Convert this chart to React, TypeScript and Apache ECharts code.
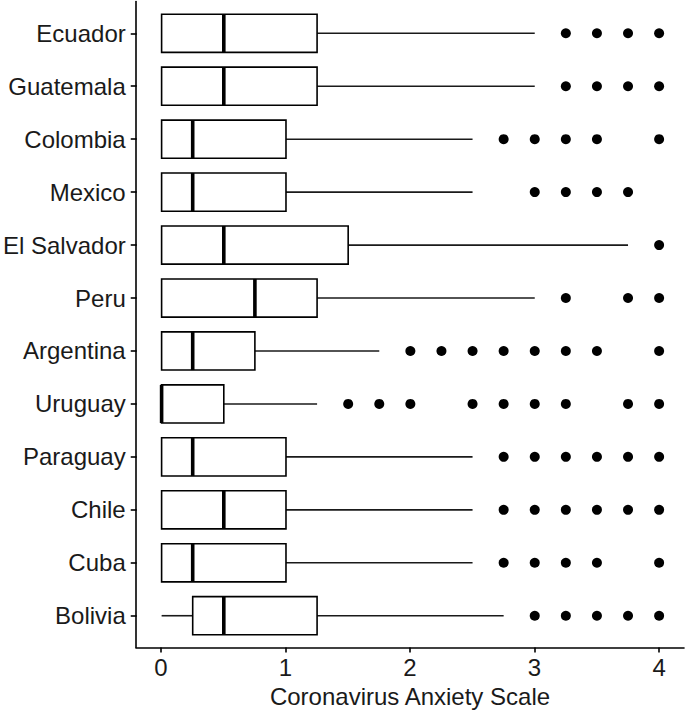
import React, { useEffect, useRef } from "react";
import * as echarts from "echarts";

const countries = ["Ecuador", "Guatemala", "Colombia", "Mexico", "El Salvador", "Peru", "Argentina", "Uruguay", "Paraguay", "Chile", "Cuba", "Bolivia"];
const lowerWhisker = [0, 0, 0, 0, 0, 0, 0, 0, 0, 0, 0, 0];
const q1 = [0, 0, 0, 0, 0, 0, 0, 0, 0, 0, 0, 0.25];
const median = [0.5, 0.5, 0.25, 0.25, 0.5, 0.75, 0.25, 0, 0.25, 0.5, 0.25, 0.5];
const q3 = [1.25, 1.25, 1, 1, 1.5, 1.25, 0.75, 0.5, 1, 1, 1, 1.25];
const upperWhisker = [3, 3, 2.5, 2.5, 3.75, 3, 1.75, 1.25, 2.5, 2.5, 2.5, 2.75];
const outliers = [
  [3.25, 3.5, 3.75, 4],
  [3.25, 3.5, 3.75, 4],
  [2.75, 3, 3.25, 3.5, 4],
  [3, 3.25, 3.5, 3.75],
  [4],
  [3.25, 3.75, 4],
  [2, 2.25, 2.5, 2.75, 3, 3.25, 3.5, 4],
  [1.5, 1.75, 2, 2.5, 2.75, 3, 3.25, 3.75, 4],
  [2.75, 3, 3.25, 3.5, 3.75, 4],
  [2.75, 3, 3.25, 3.5, 3.75, 4],
  [2.75, 3, 3.25, 3.5, 4],
  [3, 3.25, 3.5, 3.75, 4],
];
const xTicks = [0, 1, 2, 3, 4];
const xTitle = "Coronavirus Anxiety Scale";

const FONT = "'Liberation Sans', Arial, Helvetica, sans-serif";
const FS = 24;

export default function App() {
  const ref = useRef<HTMLDivElement>(null);
  useEffect(() => {
    if (!ref.current) return;
    const chart = echarts.init(ref.current, undefined, { renderer: "svg" });
    const boxData = countries.map((_, i) => [i, lowerWhisker[i], q1[i], median[i], q3[i], upperWhisker[i]]);
    const outlierData: number[][] = [];
    outliers.forEach((arr, i) => arr.forEach((v) => outlierData.push([v, i])));

    const option: any = {
      animation: false,
      backgroundColor: "#ffffff",
      grid: [
        { left: 136, right: 1, top: 6.8, height: 635.4 },
        { left: 136, right: 1, top: 1.5, height: 646 },
      ],
      xAxis: [
        {
          type: "value",
          gridIndex: 0,
          min: -0.2,
          max: 4.2,
          show: false,
        },
        {
          type: "value",
          gridIndex: 1,
          min: -0.2,
          max: 4.2,
          axisLine: { show: true, onZero: false, lineStyle: { color: "#000", width: 1.6 } },
          axisTick: { show: true, length: 5, lineStyle: { color: "#000", width: 1.6 }, customValues: xTicks },
          axisLabel: {
            show: true,
            customValues: xTicks,
            fontSize: FS,
            color: "#1a1a1a",
            fontFamily: FONT,
            margin: 8,
            formatter: (v: number) => (Number.isInteger(v) ? String(v) : ""),
          },
          splitLine: { show: false },
          name: xTitle,
          nameLocation: "middle",
          nameGap: 37,
          nameTextStyle: { fontSize: FS, color: "#1a1a1a", fontFamily: FONT },
        },
      ],
      yAxis: [
        {
          type: "category",
          gridIndex: 0,
          data: countries,
          inverse: true,
          boundaryGap: true,
          axisLine: { show: false, onZero: false },
          axisTick: { show: true, alignWithLabel: true, length: 6, lineStyle: { color: "#000", width: 1.6 } },
          axisLabel: { fontSize: FS, color: "#1a1a1a", fontFamily: FONT, margin: 11 },
          splitLine: { show: false },
        },
        {
          type: "value",
          gridIndex: 1,
          min: 0,
          max: 1,
          axisLine: { show: true, onZero: false, lineStyle: { color: "#000", width: 1.6 } },
          axisTick: { show: false },
          axisLabel: { show: false },
          splitLine: { show: false },
        },
      ],
      series: [
        {
          type: "custom",
          xAxisIndex: 0,
          yAxisIndex: 0,
          data: boxData,
          encode: { x: [1, 2, 3, 4, 5], y: 0 },
          renderItem: (params: any, api: any) => {
            const yi = api.value(0);
            const pMin = api.coord([api.value(1), yi]);
            const pQ1 = api.coord([api.value(2), yi]);
            const pMed = api.coord([api.value(3), yi]);
            const pQ3 = api.coord([api.value(4), yi]);
            const pMax = api.coord([api.value(5), yi]);
            const band = api.size([0, 1])[1];
            const h = band * 0.72;
            const cy = pQ1[1];
            const stroke = { stroke: "#000", lineWidth: 1.6 };
            const children: any[] = [];
            if (pQ1[0] - pMin[0] > 0.5) {
              children.push({ type: "line", shape: { x1: pMin[0], y1: cy, x2: pQ1[0], y2: cy }, style: { ...stroke, stroke: "#1a1a1a" } });
            }
            if (pMax[0] - pQ3[0] > 0.5) {
              children.push({ type: "line", shape: { x1: pQ3[0], y1: cy, x2: pMax[0], y2: cy }, style: { ...stroke, stroke: "#1a1a1a" } });
            }
            children.push({
              type: "rect",
              shape: { x: pQ1[0], y: cy - h / 2, width: pQ3[0] - pQ1[0], height: h },
              style: { fill: "#fff", ...stroke },
            });
            children.push({
              type: "line",
              shape: { x1: pMed[0], y1: cy - h / 2, x2: pMed[0], y2: cy + h / 2 },
              style: { stroke: "#000", lineWidth: 3.6 },
            });
            return { type: "group", children };
          },
        },
        {
          type: "scatter",
          xAxisIndex: 0,
          yAxisIndex: 0,
          data: outlierData,
          symbol: "circle",
          symbolSize: 10,
          itemStyle: { color: "#000", opacity: 1 },
        },
      ],
    };
    chart.setOption(option);
    return () => chart.dispose();
  }, []);
  return <div ref={ref} style={{ position: "fixed", left: 0, top: 0, width: 685, height: 716, background: "#fff" }} />;
}
